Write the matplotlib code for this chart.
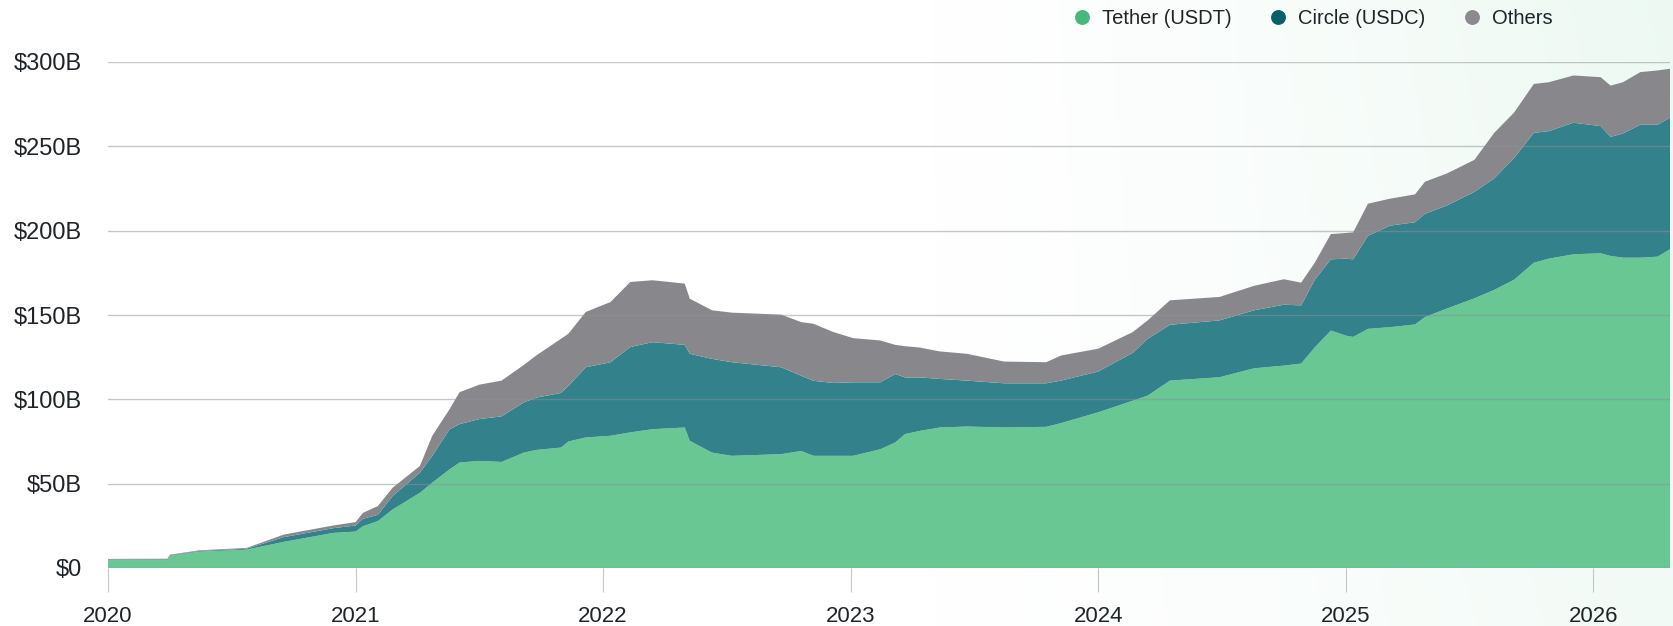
import matplotlib.pyplot as plt
import numpy as np
from matplotlib.lines import Line2D

# stablecoin supply, $B (x = decimal year)
years = [2020.00, 2020.24, 2020.25, 2020.37, 2020.56, 2020.71, 2020.91, 2021.00,
         2021.03, 2021.09, 2021.15, 2021.26, 2021.31, 2021.38, 2021.42, 2021.50,
         2021.59, 2021.68, 2021.73, 2021.83, 2021.86, 2021.93, 2022.03, 2022.11, 2022.20,
         2022.33, 2022.35, 2022.44, 2022.52, 2022.72, 2022.80, 2022.85, 2022.93,
         2023.01, 2023.12, 2023.18, 2023.22, 2023.28, 2023.36, 2023.47, 2023.62,
         2023.79, 2023.85, 2024.00, 2024.14, 2024.20, 2024.29, 2024.49, 2024.63,
         2024.75, 2024.82, 2024.875, 2024.94, 2025.00, 2025.03, 2025.09, 2025.18,
         2025.28, 2025.32, 2025.41, 2025.52, 2025.60, 2025.68, 2025.76, 2025.82,
         2025.92, 2026.03, 2026.07, 2026.12, 2026.19, 2026.26, 2026.31]
usdt = [4.6, 4.7, 7.3, 9.7, 10.9, 15.5, 20.8, 21.6,
        24.8, 27.8, 34.7, 44.6, 50.6, 58.5, 62.5, 63.5,
        62.9, 68.4, 70.0, 71.4, 75.0, 77.4, 78.4, 80.4, 82.3,
        83.3, 75.4, 68.4, 66.5, 67.5, 69.4, 66.5, 66.5,
        66.5, 70.4, 74.4, 79.4, 81.3, 83.3, 83.9, 83.3,
        83.7, 85.9, 92.3, 99.2, 102.2, 111.1, 113.1, 118.4,
        120.0, 121.2, 130.8, 140.8, 137.8, 137.0, 141.8, 142.8,
        144.4, 148.8, 153.9, 159.9, 164.9, 170.9, 181.0, 183.4,
        186.0, 186.6, 185.0, 184.0, 184.0, 184.6, 189.0]
usdc = [0.4, 0.4, 0.3, 0.4, 0.5, 2.8, 2.8, 3.6,
        4.4, 3.7, 8.0, 11.9, 15.9, 23.8, 22.8, 24.8,
        27.0, 29.8, 31.0, 32.4, 33.0, 41.6, 43.6, 50.6, 51.6,
        49.0, 51.6, 55.6, 55.5, 51.5, 44.6, 44.5, 43.2,
        43.6, 39.7, 40.6, 33.6, 31.7, 28.8, 27.2, 26.2,
        25.8, 25.2, 24.2, 28.4, 33.7, 33.1, 33.7, 34.4,
        36.1, 34.5, 40.1, 42.2, 45.6, 46.0, 55.2, 60.2,
        60.6, 61.2, 61.1, 63.1, 66.1, 72.1, 77.0, 75.6,
        78.0, 75.4, 70.6, 73.6, 78.8, 78.2, 78.0]
others = [0.4, 0.4, 0.3, 0.4, 0.5, 1.5, 1.6, 2.0,
          3.5, 5.2, 4.9, 4.0, 11.9, 11.9, 18.9, 20.4,
          21.2, 22.2, 25.0, 32.1, 30.9, 32.8, 35.7, 38.6, 36.7,
          36.3, 32.7, 28.8, 29.4, 31.2, 31.8, 33.8, 30.2,
          26.2, 24.8, 17.3, 18.5, 17.7, 16.3, 15.9, 12.9,
          12.5, 14.9, 13.5, 12.3, 10.9, 14.5, 13.9, 14.5,
          15.1, 13.5, 10.1, 15.0, 15.2, 16.0, 19.0, 16.0,
          16.5, 19.0, 19.0, 19.0, 27.0, 27.0, 29.0, 29.0,
          28.0, 29.0, 30.4, 30.4, 31.2, 32.2, 29.0]

series_names = ['Tether (USDT)', 'Circle (USDC)', 'Others']
fill_colors = ['#69c794', '#33818b', '#88888c']
dot_colors = ['#45b87a', '#0b5f6b', '#8a8a8f']
year_ticks = [2020, 2021, 2022, 2023, 2024, 2025, 2026]
value_ticks = [0, 50, 100, 150, 200, 250, 300]
value_labels = ['\\$0', '\\$50B', '\\$100B', '\\$150B', '\\$200B', '\\$250B', '\\$300B']

plt.rcParams['font.family'] = ['Liberation Sans', 'DejaVu Sans']
text_color = '#1f2429'

fig = plt.figure(figsize=(16.73, 6.26), dpi=100)

# faint mint wash on the right side of the canvas
bg = fig.add_axes([0, 0, 1, 1], zorder=-5)
gx, gy = np.meshgrid(np.linspace(0, 1, 400), np.linspace(0, 1, 60))
alpha = np.clip((gx - 0.55) / 0.45, 0, 1) ** 1.3 * (0.5 + 0.2 * gy)
rgba = np.zeros(gx.shape + (4,))
rgba[..., 0] = 0.90
rgba[..., 1] = 0.965
rgba[..., 2] = 0.93
rgba[..., 3] = alpha
bg.imshow(rgba, extent=[0, 1, 0, 1], origin='lower', aspect='auto')
bg.axis('off')

ax = fig.add_axes([108 / 1673, 58 / 626, 1562 / 1673, 506 / 626])
ax.set_facecolor('none')
ax.stackplot(years, usdt, usdc, others, colors=fill_colors, linewidth=0)

ax.set_xlim(2020, 2026.31)
ax.set_ylim(0, 300)
ax.set_xticks(year_ticks)
ax.set_xticklabels([str(y) for y in year_ticks])
ax.set_yticks(value_ticks)
ax.set_yticklabels(value_labels)

ax.yaxis.grid(True, color='#8a9099', alpha=0.5, linewidth=1)
ax.set_axisbelow(False)
for s in ax.spines.values():
    s.set_visible(False)

ax.tick_params(axis='x', length=17, width=0.8, color='#c3c7cb', pad=10,
               labelsize=16, labelcolor=text_color)
ax.tick_params(axis='y', length=0, pad=19, labelsize=17, labelcolor=text_color)

handles = [Line2D([], [], marker='o', ls='', ms=9.7, color=c) for c in dot_colors]
fig.legend(handles, series_names, loc='center', bbox_to_anchor=(0.785, 0.971),
           ncol=3, frameon=False, fontsize=14.5, handlelength=0.8,
           handletextpad=0.6, columnspacing=1.9, labelcolor=text_color)

fig.savefig('out.png', dpi=100)
